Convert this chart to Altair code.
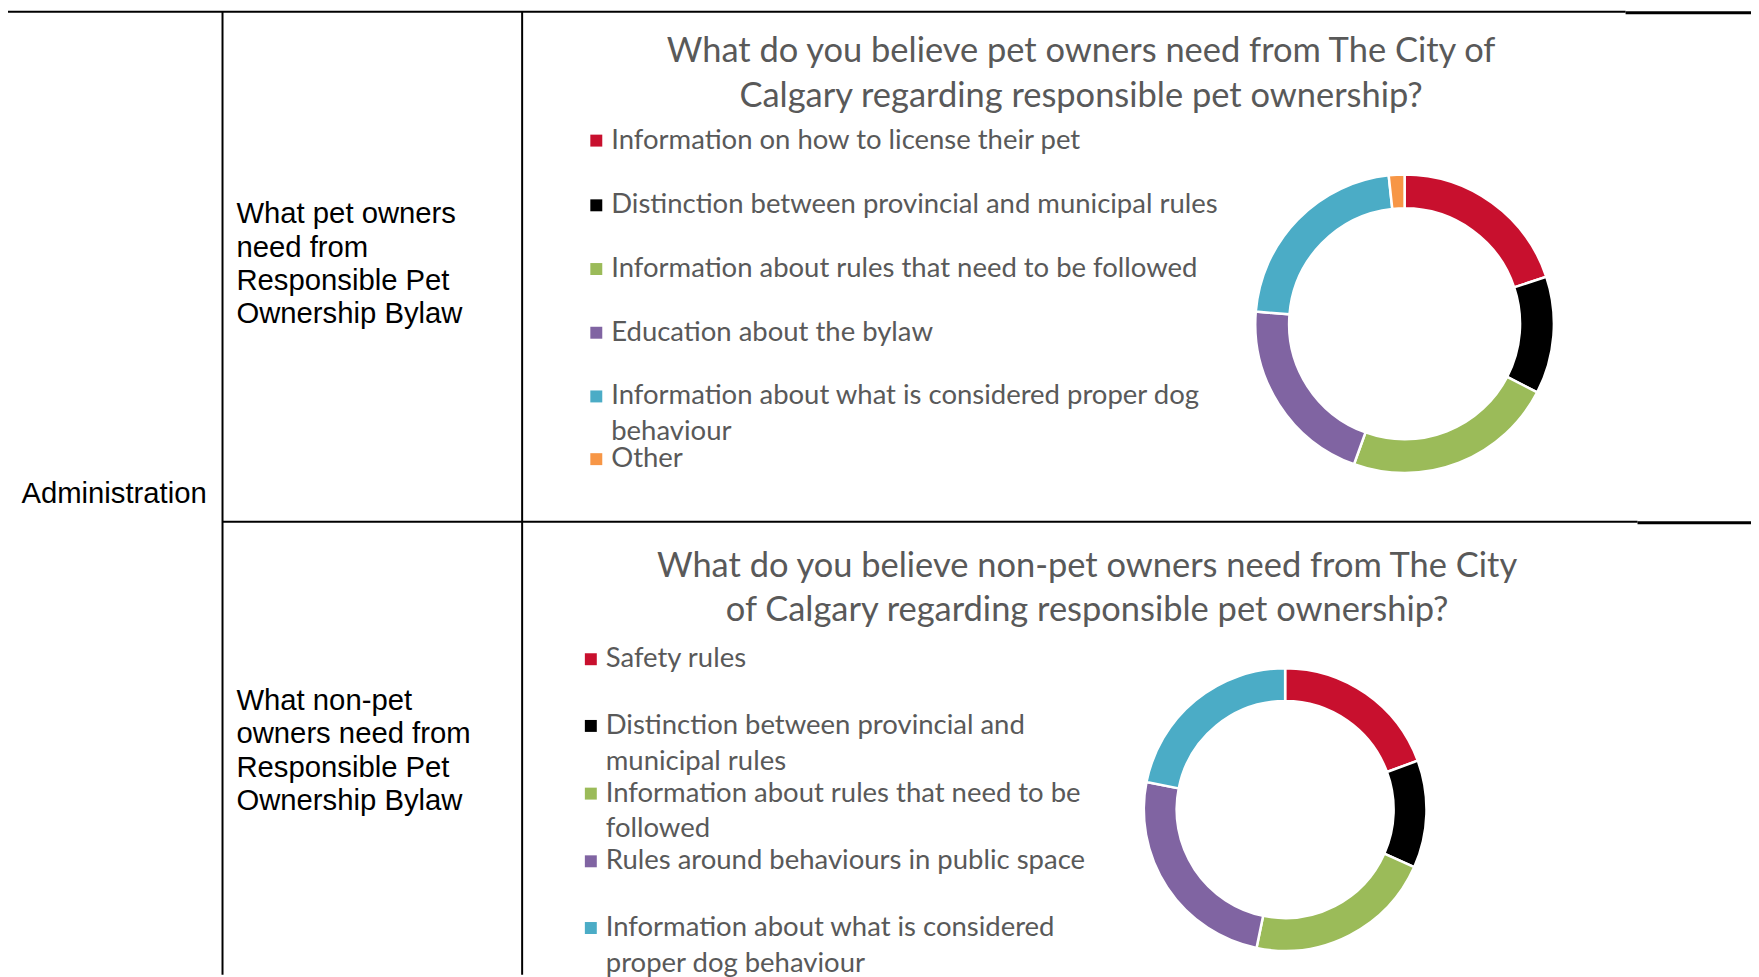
import altair as alt
import pandas as pd

# ---------------- data ----------------
owner_categories = [
    "Information on how to license their pet",
    "Distinction between provincial and municipal rules",
    "Information about rules that need to be followed",
    "Education about the bylaw",
    "Information about what is considered proper dog behaviour",
    "Other",
]
owner_shares = [19.9, 12.7, 22.9, 20.8, 22.0, 1.7]

nonowner_categories = [
    "Safety rules",
    "Distinction between provincial and municipal rules",
    "Information about rules that need to be followed",
    "Rules around behaviours in public space",
    "Information about what is considered proper dog behaviour",
]
nonowner_shares = [19.4, 12.3, 21.6, 24.9, 21.9]

owner_title = ["What do you believe pet owners need from The City of",
               "Calgary regarding responsible pet ownership?"]
nonowner_title = ["What do you believe non-pet owners need from The City",
                  "of Calgary regarding responsible pet ownership?"]
row_header = "Administration"
owner_cell = ["What pet owners", "need from", "Responsible Pet", "Ownership Bylaw"]
nonowner_cell = ["What non-pet", "owners need from", "Responsible Pet", "Ownership Bylaw"]

# ---------------- styles / layout ----------------
owner_colors = ["#C8102E", "#000000", "#9BBB59", "#8064A2", "#4BACC6", "#F79646"]
nonowner_colors = ["#C8102E", "#000000", "#9BBB59", "#8064A2", "#4BACC6"]
GREY = "#595959"
OFF = 8  # page margin
W, H = 1751, 969
CHART_FONT = "Lato"
TABLE_FONT = "Liberation Sans"
TITLE_SIZE = 34.6
LEGEND_SIZE = 27.6
TABLE_SIZE = 29.4

owner_wrap = {4: ["Information about what is considered proper dog", "behaviour"]}
nonowner_wrap = {
    1: ["Distinction between provincial and", "municipal rules"],
    2: ["Information about rules that need to be", "followed"],
    4: ["Information about what is considered", "proper dog behaviour"],
}
owner_legend_rows = [147, 212, 276, 340, 404, 467]
nonowner_legend_rows = [668, 735, 803, 871, 938]

one = pd.DataFrame({"d": [0]})


def P(v):
    return v - OFF


def rule(x1, x2, y1, y2, w=2):
    return alt.Chart(one).mark_rule(color="black", strokeWidth=w).encode(
        x=alt.value(P(x1)), x2=alt.value(P(x2)), y=alt.value(P(y1)), y2=alt.value(P(y2))
    )


def text_block(lines, x, y, font, size, color, lh, align="left"):
    return alt.Chart(one).mark_text(
        align=align, baseline="alphabetic", font=font, fontSize=size,
        color=color, lineHeight=lh,
    ).encode(x=alt.value(P(x)), y=alt.value(P(y)), text=alt.value(lines))


def donut(cats, vals, colors, cx, cy, ro, ri):
    df = pd.DataFrame({"category": cats, "share": vals, "idx": list(range(len(cats)))})
    return alt.Chart(df).mark_arc(
        outerRadius=ro, innerRadius=ri, stroke="white", strokeWidth=2.5
    ).encode(
        x=alt.value(P(cx)), y=alt.value(P(cy)),
        theta=alt.Theta("share:Q", stack=True),
        order=alt.Order("idx:Q"),
        color=alt.Color("category:N", scale=alt.Scale(domain=cats, range=colors), legend=None),
    )


def legend(cats, colors, wraps, rows, sw_x, tx_x, size):
    labels = ["\n".join(wraps.get(i, [c])) for i, c in enumerate(cats)]
    df = pd.DataFrame({"category": cats, "label": labels,
                       "ypos": [P(r) for r in rows]})
    sw = alt.Chart(df).mark_square(size=144, opacity=1).encode(
        x=alt.value(P(sw_x)),
        y=alt.Y("swy:Q", scale=None),
        color=alt.Color("category:N", scale=alt.Scale(domain=cats, range=colors), legend=None),
    ).transform_calculate(swy="datum.ypos - 8")
    tx = alt.Chart(df).mark_text(
        align="left", baseline="alphabetic", font=CHART_FONT, fontSize=size,
        color=GREY, lineBreak="\n", lineHeight=36,
    ).encode(x=alt.value(P(tx_x)), y=alt.Y("ypos:Q", scale=None), text="label:N")
    return [sw, tx]


layers = [
    # table grid
    rule(8, 1633, 9.5, 9.5),
    rule(1633, 1759, 10.5, 10.5, 3),
    rule(223.5, 223.5, 9, 977),
    rule(524.5, 524.5, 9, 977),
    rule(223.5, 1645, 522, 522),
    rule(1645, 1759, 523, 523, 3),
    # table cells
    text_block(row_header, 21.5, 503, TABLE_FONT, TABLE_SIZE, "black", 33),
    text_block(owner_cell, 237.5, 222, TABLE_FONT, TABLE_SIZE, "black", 33.5),
    text_block(nonowner_cell, 237.5, 711, TABLE_FONT, TABLE_SIZE, "black", 33.5),
    # chart titles
    text_block(owner_title, 1086, 60, CHART_FONT, TITLE_SIZE, GREY, 45, align="center"),
    text_block(nonowner_title, 1092, 577, CHART_FONT, TITLE_SIZE, GREY, 45, align="center"),
    # donuts
    donut(owner_categories, owner_shares, owner_colors, 1411, 323, 150, 116),
    donut(nonowner_categories, nonowner_shares, nonowner_colors, 1291, 811, 142, 109),
]
layers += legend(owner_categories, owner_colors, owner_wrap, owner_legend_rows, 599, 614, LEGEND_SIZE)
layers += legend(nonowner_categories, nonowner_colors, nonowner_wrap, nonowner_legend_rows, 593.5, 608.5, LEGEND_SIZE)

chart = alt.layer(*layers).resolve_scale(
    color="independent", theta="independent"
).properties(
    width=W, height=H, padding=0, autosize=alt.AutoSizeParams(type="none"),
    background="white",
).configure_view(stroke=None)

chart.save("out.html", embed_options={"renderer": "svg", "actions": False})
